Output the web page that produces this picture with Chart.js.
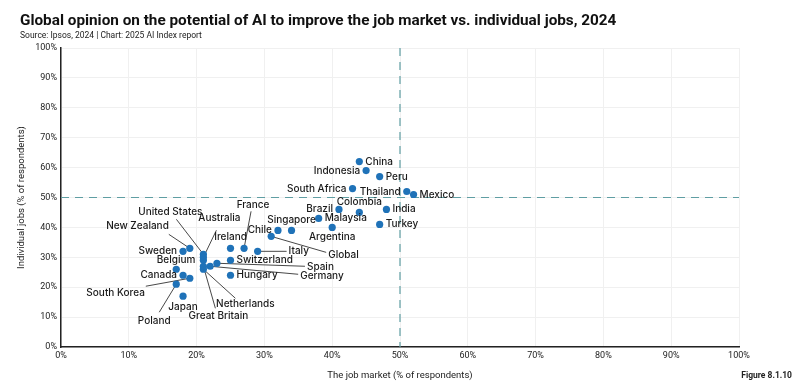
<!DOCTYPE html>
<html><head><meta charset="utf-8">
<script src="https://cdn.jsdelivr.net/npm/chart.js@4/dist/chart.umd.min.js"></script>
<style>html,body{margin:0;padding:0;background:#fff}canvas{display:block}</style>
</head><body>
<canvas id="c" width="800" height="392" style="width:800px;height:392px"></canvas>
<script>
// ---- data ----
const countries = ["China","Indonesia","Peru","South Africa","Thailand","Mexico","Colombia","Brazil","India","Turkey","Malaysia","Singapore","Chile","Argentina","Global","Italy","France","Ireland","Switzerland","Hungary","Spain","Germany","Netherlands","Great Britain","Japan","Poland","South Korea","Canada","Belgium","Sweden","New Zealand","United States","Australia",""];
const jobMarket = [44,45,47,43,51,52,44,41,48,47,38,34,32,40,31,29,27,25,25,25,23,22,21,21,18,17,19,18,21,18,19,21,21,17];
const individualJobs = [62,59,57,53,52,51,45,46,46,41,43,39,39,40,37,32,33,33,29,24,28,27,26,27,17,21,23,24,29,32,33,31,30,26];
const tickValues = [0,10,20,30,40,50,60,70,80,90,100];
const referenceValue = 50;

// ---- label placement (style only) ----
const FONT = "Inter, 'DejaVu Sans', sans-serif";
const place = {
 "China":{dx:6,dy:0,a:"left"},
 "Indonesia":{dx:-6,dy:0,a:"right"},
 "Peru":{dx:6,dy:0,a:"left"},
 "South Africa":{dx:-6,dy:0,a:"right"},
 "Thailand":{dx:-6,dy:0,a:"right"},
 "Mexico":{dx:6,dy:0,a:"left"},
 "Colombia":{dx:0,dy:-10,a:"center"},
 "Brazil":{dx:-6,dy:0,a:"right"},
 "India":{dx:6,dy:0,a:"left"},
 "Turkey":{dx:6,dy:0,a:"left"},
 "Malaysia":{dx:6,dy:0,a:"left"},
 "Singapore":{dx:0,dy:-10,a:"center"},
 "Chile":{dx:-6,dy:0,a:"right"},
 "Argentina":{dx:0,dy:10,a:"center"},
 "Global":{dx:57,dy:19,a:"left",lx:55,ly:16},
 "Italy":{dx:31,dy:0,a:"left",lx:29,ly:0},
 "France":{dx:9,dy:-43,a:"center",lx:7,ly:-37},
 "Ireland":{dx:0,dy:-11,a:"center"},
 "Switzerland":{dx:6,dy:0,a:"left"},
 "Hungary":{dx:6,dy:0,a:"left"},
 "Spain":{dx:90,dy:4,a:"left",lx:88,ly:3},
 "Germany":{dx:90,dy:10,a:"left",lx:88,ly:8},
 "Netherlands":{dx:42,dy:35,a:"center",lx:32,ly:29},
 "Great Britain":{dx:15,dy:50,a:"center",lx:12,ly:42},
 "Japan":{dx:0,dy:11,a:"center"},
 "Poland":{dx:-22,dy:37,a:"center",lx:-17,ly:28},
 "South Korea":{dx:-45,dy:15,a:"right",lx:-44,ly:8},
 "Canada":{dx:-6,dy:0,a:"right"},
 "Belgium":{dx:-8,dy:0,a:"right"},
 "Sweden":{dx:-6,dy:0,a:"right"},
 "New Zealand":{dx:-21,dy:-22,a:"right",lx:-21,ly:-14},
 "United States":{dx:-33,dy:-42,a:"center",lx:-27,ly:-35},
 "Australia":{dx:16,dy:-39,a:"center",lx:13,ly:-27}
};

const points = countries.map((n,i)=>({x:jobMarket[i], y:individualJobs[i], name:n}));

const decor = {
 id:"decor",
 beforeDatasetsDraw(chart){
  const {ctx, chartArea:a, scales:{x,y}} = chart;
  ctx.save();
  ctx.strokeStyle = "#5f9ea3"; ctx.lineWidth = 1.2; ctx.setLineDash([8,6]);
  const px = x.getPixelForValue(referenceValue), py = y.getPixelForValue(referenceValue);
  ctx.beginPath(); ctx.moveTo(px, a.top); ctx.lineTo(px, a.bottom); ctx.stroke();
  ctx.beginPath(); ctx.moveTo(a.left, py); ctx.lineTo(a.right, py); ctx.stroke();
  ctx.setLineDash([]);
  // leader lines
  const meta = chart.getDatasetMeta(0);
  ctx.strokeStyle = "#333"; ctx.lineWidth = 0.9;
  meta.data.forEach((el,i)=>{
   const p = place[countries[i]];
   if(!p || p.lx===undefined) return;
   ctx.beginPath(); ctx.moveTo(el.x, el.y); ctx.lineTo(el.x+p.lx, el.y+p.ly); ctx.stroke();
  });
  ctx.restore();
 },
 afterDatasetsDraw(chart){
  const {ctx} = chart;
  const meta = chart.getDatasetMeta(0);
  ctx.save();
  ctx.font = "500 10px " + FONT; ctx.fillStyle = "#1a1a1a"; ctx.textBaseline = "middle";
  meta.data.forEach((el,i)=>{
   const p = place[countries[i]];
   if(!p) return;
   ctx.textAlign = p.a;
   ctx.fillText(countries[i], el.x+p.dx, el.y+p.dy);
  });
  ctx.restore();
 },
 afterDraw(chart){
  const {ctx, chartArea:a} = chart;
  ctx.save();
  ctx.fillStyle = "#111"; ctx.textBaseline = "alphabetic"; ctx.textAlign = "left";
  ctx.font = "bold 15.3px Roboto, sans-serif";
  ctx.fillText("Global opinion on the potential of AI to improve the job market vs. individual jobs, 2024", 20, 25);
  ctx.font = "8.5px Roboto, sans-serif"; ctx.fillStyle = "#222";
  ctx.fillText("Source: Ipsos, 2024 | Chart: 2025 AI Index report", 20, 38);
  ctx.font = "9.5px Roboto, sans-serif"; ctx.textAlign = "center"; ctx.fillStyle = "#222";
  ctx.fillText("The job market (% of respondents)", (a.left+a.right)/2, 378);
  ctx.font = "bold 8.5px Roboto, sans-serif"; ctx.textAlign = "right";
  ctx.fillText("Figure 8.1.10", 792, 378);
  ctx.translate(24, (a.top+a.bottom)/2); ctx.rotate(-Math.PI/2);
  ctx.font = "9.5px Roboto, sans-serif"; ctx.textAlign = "center";
  ctx.fillText("Individual jobs (% of respondents)", 0, 0);
  ctx.restore();
 }
};

new Chart(document.getElementById("c"), {
 type:"scatter",
 data:{datasets:[{data:points, backgroundColor:"#1f72b8", borderColor:"#1f72b8", pointRadius:3.6, pointHoverRadius:3.6, borderWidth:0}]},
 options:{
  responsive:false, animation:false, devicePixelRatio:1,
  layout:{padding:{left:0, top:48, right:61, bottom:0}},
  plugins:{legend:{display:false}, tooltip:{enabled:false}},
  scales:{
   x:{type:"linear", min:0, max:100, afterFit(s){s.height=45;},
      afterBuildTicks(s){s.ticks = tickValues.map(v=>({value:v}));},
      ticks:{callback:v=>v+"%", font:{size:9, family:"Roboto, sans-serif"}, color:"#222", padding:3, maxRotation:0},
      grid:{color:"#f0f0f0", lineWidth:1, drawTicks:false},
      border:{display:true, color:"#222", width:1.5}},
   y:{type:"linear", min:0, max:100, afterFit(s){s.width=61;},
      afterBuildTicks(s){s.ticks = tickValues.map(v=>({value:v}));},
      ticks:{callback:v=>v+"%", font:{size:9, family:"Roboto, sans-serif"}, color:"#222", padding:4},
      grid:{color:"#f0f0f0", lineWidth:1, drawTicks:false},
      border:{display:true, color:"#222", width:1.5}}
  }
 },
 plugins:[decor]
});
</script>
</body></html>
